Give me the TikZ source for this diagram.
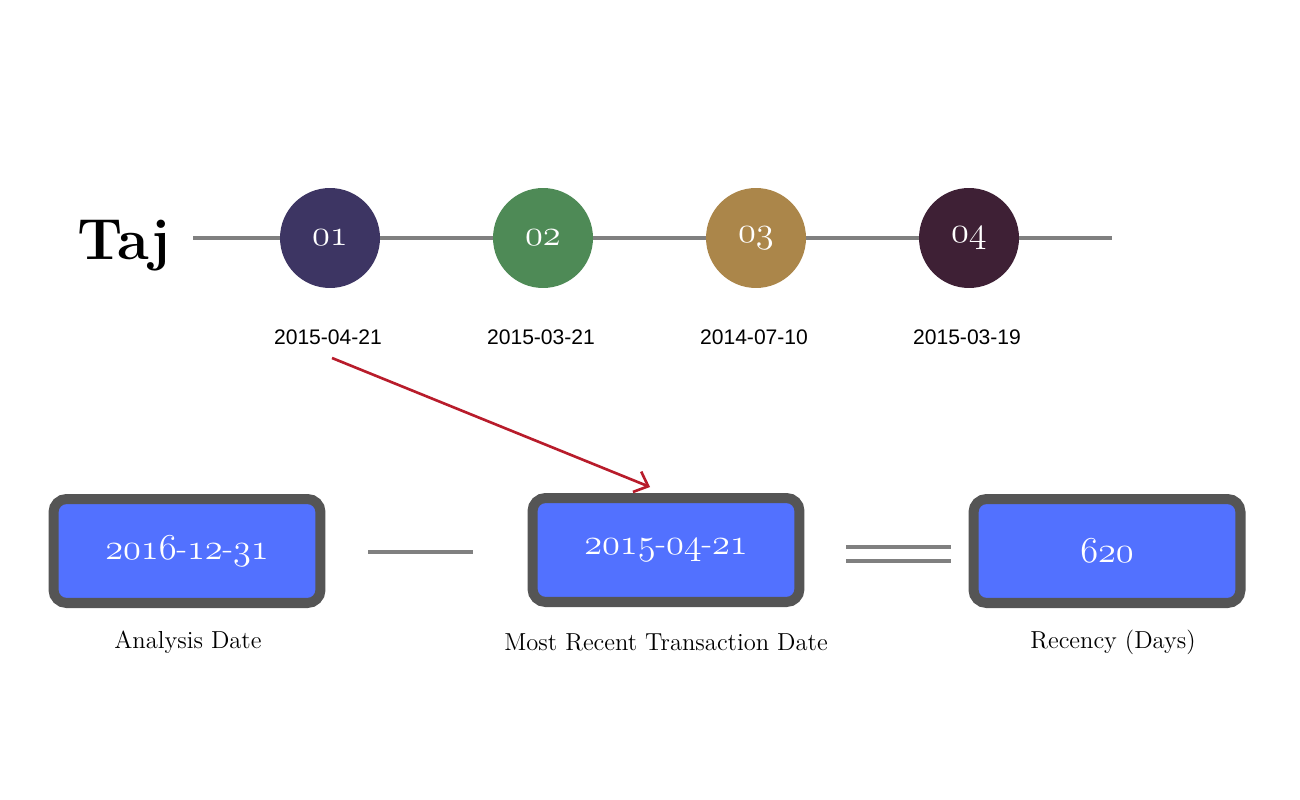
\documentclass[tikz,border=0pt]{standalone}
\usepackage{fontspec}
\newfontfamily\datefont{Liberation Sans}
\usetikzlibrary{positioning,arrows.meta}

% old style figures from the math italic font
\newcommand{\onum}[1]{{\usefont{OML}{lmm}{m}{it}#1}}
\newcommand{\onumb}[1]{{\usefont{OML}{lmm}{b}{it}#1}}
\newcommand{\oldate}[3]{\onum{#1}-\onum{#2}-\onum{#3}}

\begin{document}
\begin{tikzpicture}[x=0.02cm, y=-0.02cm,
  dot/.style={circle, minimum size=2cm, inner sep=0pt, text=white,
    font=\fontsize{20}{22}\selectfont},
  datelabel/.style={font=\datefont\fontsize{12}{14}\selectfont},
  box/.style={draw=boxGR, fill=boxBL, line width=5.7pt, rounded corners=0.26cm,
    minimum width=5.34cm, minimum height=2.08cm, text=white,
    font=\fontsize{19.5}{24}\selectfont},
  boxlabel/.style={font=\fontsize{14}{16}\selectfont},
  rule/.style={lineGR, line width=2pt}]

\definecolor{lineGR}{HTML}{808080}
\definecolor{boxGR}{HTML}{555555}
\definecolor{boxBL}{HTML}{5271FF}
\definecolor{redTJ}{HTML}{B81C2B}
\definecolor{purpleTJ}{HTML}{3D3563}
\definecolor{greenTJ}{HTML}{4E8A56}
\definecolor{goldTJ}{HTML}{AB864A}
\definecolor{plumTJ}{HTML}{3E2035}

\useasboundingbox (0,0) rectangle (1300,800);

\node[font=\fontsize{33}{40}\selectfont\bfseries] (taj) at (124,246) {Taj};

% timeline
\coordinate (lstart) at (193,238);
\coordinate (lend) at (1112,238);
\draw[rule] (lstart) -- (lend);

\foreach \i/\x/\c/\d in {1/330/purpleTJ/2015-04-21, 2/543/greenTJ/2015-03-21,
    3/756/goldTJ/2014-07-10, 4/969/plumTJ/2015-03-19} {
 \node[dot, fill=\c] (c\i) at (\x,238) {\onumb{0\i}};
 \node[datelabel] (d\i) at (\x-2,337) {\d};
}

% recency
\node[box] (b1) at (187,551) {\oldate{2016}{12}{31}};
\node[box] (b2) at (666,550) {\oldate{2015}{04}{21}};
\node[box] (b3) at (1107,551) {\onum{620}};

\node[boxlabel] (l1) at (188,642) {Analysis Date};
\node[boxlabel] (l2) at (666,642) {Most Recent Transaction Date};
\node[boxlabel] (l3) at (1113,642) {Recency (Days)};

\coordinate (m1) at (368,552);
\coordinate (m2) at (473,552);
\draw[rule] (m1) -- (m2);

\coordinate (e1) at (846,547);
\coordinate (e2) at (951,547);
\coordinate (e3) at (846,561);
\coordinate (e4) at (951,561);
\draw[rule] (e1) -- (e2);
\draw[rule] (e3) -- (e4);

\coordinate (a1) at (332,358);
\draw[redTJ, line width=1.5pt, -{Straight Barb[length=2.4mm, width=4.4mm]}]
  (a1) -- ([shift={(-16,-6)}]b2.north);

\end{tikzpicture}
\end{document}
